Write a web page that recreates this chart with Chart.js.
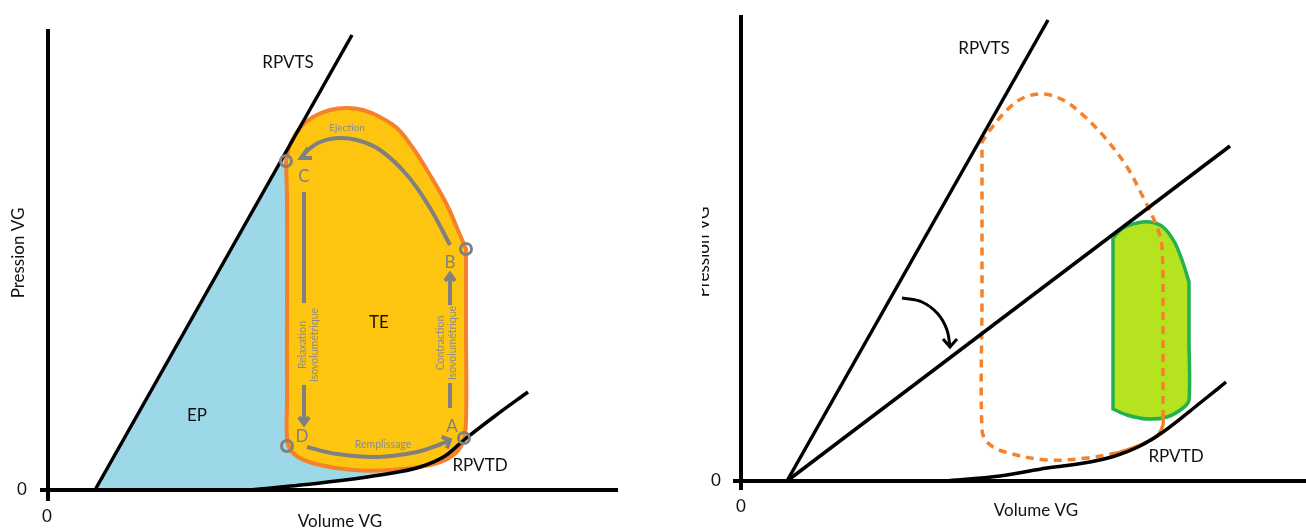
<!DOCTYPE html>
<html>
<head>
<meta charset="utf-8">
<script src="https://cdn.jsdelivr.net/npm/chart.js@4.4.1/dist/chart.umd.min.js"></script>
<style>
  html, body { margin: 0; padding: 0; background: #fff; overflow: hidden; }
  #left { position: absolute; left: 0; top: 0; }
  #right { position: absolute; left: 702px; top: 0; }
</style>
</head>
<body>
<canvas id="left" width="702" height="529"></canvas>
<canvas id="right" width="604" height="529"></canvas>
<script>
// Left panel - [volume, pressure] pairs (arbitrary units)
const leftAxisY = [[0, -5.5], [0, 230.5]];
const leftAxisX = [[-4, 0], [285, 0]];
const leftEspvr = [[23.5, 0], [152, 227.5]];
const leftEdpvr = [[101, 0], [136, 3.5], [166, 7.5], [186, 11.5], [198.5, 17], [208, 25], [223.5, 37], [240, 49]];
const epArea = [[23.5, 0], [118, 166], [136, 95], [176, 17.5], [186, 11.5], [166, 7.5], [136, 3.5], [101, 0], [23.5, 0]];
// B and C are repeated so the outline keeps a corner there
const pvLoop = [
  [119, 164.5], [119, 164.5], [121, 172.5], [126, 181], [132.5, 186.5], [141, 190], [149.5, 191],
  [157.5, 190], [166, 186.5], [174.5, 181], [182.5, 171], [191, 157.5], [199.5, 142.5],
  [206, 127.5], [209, 120.5], [209, 120.5], [209, 80], [209, 35],
  [207.5, 24], [202, 17], [191, 12.5], [171, 10], [152.5, 10], [136, 12.5],
  [125, 16.5], [120, 23], [119.5, 45], [119.5, 95], [119.5, 145], [119, 164.5]
];
const valvePoints = [[119, 164.5], [209, 120.5], [208, 26], [119.5, 22]]; // C, B, A, D
const ejectionArc = [[201, 122.5], [191, 141], [179.5, 157.5], [166, 170], [154.5, 175], [144.5, 176], [136, 174], [130, 170], [126.5, 166]];
const ejectionHead = [[130, 171], [126.5, 166], [132, 166]];
const relaxTop = [[128, 149], [128, 93.5]];
const relaxBottom = [[128, 52.5], [128, 33]];
const relaxHead = [[125.5, 36.5], [128, 33], [130.5, 36.5]];
const contractBottom = [[201, 41], [201, 53.5]];
const contractTop = [[201, 92.5], [201, 108.5]];
const contractHead = [[198.5, 104.5], [201, 108], [203.5, 104.5]];
const fillingArc = [[129.5, 21.5], [144.5, 18], [164.5, 16.5], [184.5, 19], [196.5, 23], [201, 25]];
const fillingHead = [[196.8, 26.6], [201, 25], [199.4, 20.8]];

// Right panel - [volume, pressure] pairs
const rightAxisY = [[0, -4.5], [0, 233]];
const rightAxisX = [[-4, 0], [283, 0]];
const rightEspvr = [[23, 0], [153.5, 230.5]];
const reducedEspvr = [[23, 0], [244.5, 167.5]];
const rightEdpvr = [[102, 0], [129.5, 2.5], [153, 6.5], [174.5, 9.5], [187, 12.5], [199.5, 17.5], [211, 24.5], [229.5, 39], [242.5, 49.5]];
const normalLoop = [
  [211, 31.5], [211, 75.5], [210.5, 117], [208, 127], [201, 142], [193, 157], [183, 170.5],
  [171, 183], [161, 190.5], [151, 193.5], [141, 191.5], [133, 185.5], [124.5, 175.5],
  [120.5, 169.5], [120.5, 169.5], [120.5, 90.5], [120.5, 25.5], [123.5, 19], [132, 14.5], [153, 10.5], [173, 11.5], [188, 14]
];
const normalLoopEnd = [[187, 13.5], [199.5, 18], [208, 22.5], [211, 28], [211, 31.5]];
// corners repeated: top-left, top-right shoulder, bottom-left
const failingLoop = [
  [186, 121.5], [186, 121.5], [191, 126.5], [198, 129], [204.5, 129.5], [211, 127], [217, 119],
  [221, 109], [224, 99.5], [224, 99.5], [224, 70], [224, 40.5], [221, 36.5], [213, 32],
  [203, 31], [193, 33], [186, 36], [186, 36], [186, 80], [186, 121.5]
];
const shiftArrow = [[80.5, 91.5], [90.5, 89.5], [98.5, 83.5], [103, 75.5], [104.5, 67]];
const shiftHead = [[101, 71], [104.5, 67], [108, 71]];

const FONT = 'Lato, "Open Sans", sans-serif';
const GREY = '#808080';

const leftNotes = [
  { text: 'RPVTS', x: 120, y: 213.5, size: 17, color: '#111' },
  { text: 'RPVTD', x: 216, y: 12, size: 17, color: '#111' },
  { text: 'EP', x: 74.5, y: 37, size: 17, color: '#111' },
  { text: 'TE', x: 165.5, y: 83.5, size: 17, color: '#111' },
  { text: 'C', x: 128, y: 156.5, size: 17, color: GREY },
  { text: 'B', x: 201, y: 113.5, size: 17, color: GREY },
  { text: 'A', x: 202, y: 31.5, size: 17, color: GREY },
  { text: 'D', x: 127, y: 26.5, size: 17, color: GREY },
  { text: 'Ejection', x: 149.5, y: 181, size: 10, color: '#8c8c8c' },
  { text: 'Remplissage', x: 167.5, y: 22.5, size: 10.5, color: '#8c8c8c' },
  { text: 'Relaxation', x: 127.5, y: 72.5, size: 10.5, color: '#8c8c8c', rotate: -Math.PI / 2 },
  { text: 'Isovolumétrique', x: 133.5, y: 72.5, size: 10.5, color: '#8c8c8c', rotate: -Math.PI / 2 },
  { text: 'Contraction', x: 196.5, y: 73.5, size: 10.5, color: '#8c8c8c', rotate: -Math.PI / 2 },
  { text: 'Isovolumétrique', x: 202.5, y: 73.5, size: 10.5, color: '#8c8c8c', rotate: -Math.PI / 2 },
  { text: '0', x: -13, y: 0, size: 17, color: '#111' },
  { text: '0', x: -0.5, y: -13.5, size: 17, color: '#111' },
  { text: 'Volume VG', x: 146, y: -16, size: 17, color: '#111' },
  { text: 'Pression VG', x: -14.75, y: 118.5, size: 17, color: '#111', rotate: -Math.PI / 2 }
];

const rightNotes = [
  { text: 'RPVTS', x: 121.5, y: 216, size: 17, color: '#111' },
  { text: 'RPVTD', x: 217.5, y: 12, size: 17, color: '#111' },
  { text: '0', x: -12.5, y: 0, size: 17, color: '#111' },
  { text: '0', x: 0, y: -13, size: 17, color: '#111' },
  { text: 'Volume VG', x: 147.5, y: -15, size: 17, color: '#111' },
  { text: 'Pression VG', x: -18.5, y: 114.5, size: 17, color: '#111', rotate: -Math.PI / 2 }
];

const pts = arr => arr.map(([x, y]) => ({ x, y }));

function line(data, color, width, extra) {
  return Object.assign({
    data: pts(data),
    showLine: true,
    borderColor: color,
    borderWidth: width,
    pointRadius: 0,
    pointHoverRadius: 0,
    fill: false,
    tension: 0
  }, extra || {});
}

function notesPlugin(items) {
  return {
    id: 'notes',
    afterDatasetsDraw(chart) {
      const { ctx, scales: { x, y } } = chart;
      items.forEach(t => {
        ctx.save();
        ctx.font = `${t.size}px ${FONT}`;
        ctx.fillStyle = t.color;
        ctx.textAlign = 'center';
        ctx.textBaseline = 'middle';
        ctx.translate(x.getPixelForValue(t.x), y.getPixelForValue(t.y));
        if (t.rotate) ctx.rotate(t.rotate);
        ctx.fillText(t.text, 0, 0);
        ctx.restore();
      });
    }
  };
}

// datasets listed bottom layer first
function makeChart(id, layers, xRange, yRange, notes) {
  const datasets = layers.map((d, i) => Object.assign(d, { order: layers.length - i }));
  return new Chart(document.getElementById(id), {
    type: 'scatter',
    data: { datasets },
    options: {
      responsive: false,
      animation: false,
      devicePixelRatio: 1,
      layout: { padding: 0, autoPadding: false },
      events: [],
      plugins: { legend: { display: false }, tooltip: { enabled: false } },
      scales: {
        x: { type: 'linear', min: xRange[0], max: xRange[1], display: false },
        y: { type: 'linear', min: yRange[0], max: yRange[1], display: false }
      }
    },
    plugins: [notesPlugin(notes)]
  });
}

const ORANGE = '#F5822A';

makeChart('left', [
  line(epArea, 'rgba(0,0,0,0)', 0, { fill: 'shape', backgroundColor: '#9DD8E9' }),
  line(pvLoop, ORANGE, 4, { fill: 'shape', backgroundColor: '#FEC510', tension: 0.35 }),
  line(ejectionArc, GREY, 4, { tension: 0.4 }),
  line(ejectionHead, GREY, 4),
  line(relaxTop, GREY, 4),
  line(relaxBottom, GREY, 4),
  line(relaxHead, GREY, 4),
  line(contractBottom, GREY, 4),
  line(contractTop, GREY, 4),
  line(contractHead, GREY, 4),
  line(fillingArc, GREY, 4, { tension: 0.4 }),
  line(fillingHead, GREY, 4),
  line(leftEspvr, '#000', 3.5),
  line(leftEdpvr, '#000', 3.5, { cubicInterpolationMode: 'monotone' }),
  {
    data: pts(valvePoints), showLine: false, pointRadius: 5.5, pointBorderWidth: 3,
    pointBorderColor: GREY, pointBackgroundColor: 'rgba(0,0,0,0)'
  },
  line(leftAxisX, '#000', 4),
  line(leftAxisY, '#000', 4)
], [-24, 327], [-19.5, 245], leftNotes);

makeChart('right', [
  line(failingLoop, '#22B14C', 3.5, { fill: 'shape', backgroundColor: '#B5E31F', tension: 0.3 }),
  line(normalLoop, ORANGE, 3.5, { tension: 0.35, borderDash: [8, 6] }),
  line(normalLoopEnd, ORANGE, 3.5, { tension: 0.35 }),
  line(rightEspvr, '#000', 3.5),
  line(reducedEspvr, '#000', 3.5),
  line(rightEdpvr, '#000', 3.5, { cubicInterpolationMode: 'monotone' }),
  line(shiftArrow, '#000', 3, { tension: 0.4 }),
  line(shiftHead, '#000', 3),
  line(rightAxisX, '#000', 4),
  line(rightAxisY, '#000', 4)
], [-19.5, 282.5], [-24, 240.5], rightNotes);
</script>
</body>
</html>
